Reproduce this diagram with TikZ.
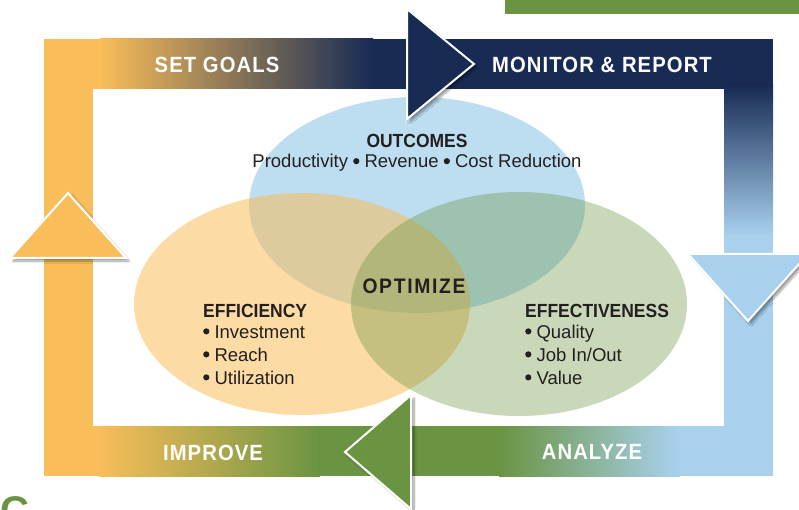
\documentclass[tikz,border=0pt]{standalone}
\usepackage{fontspec}
\setmainfont{Liberation Sans}
\newfontfamily\headfont{Liberation Sans}[FakeStretch=0.92]
\usetikzlibrary{positioning}
\usetikzlibrary{calc}
\usetikzlibrary{shadows.blur}
\definecolor{goalorange}{HTML}{F9BD59}
\definecolor{reportnavy}{HTML}{172B55}
\definecolor{analyzeblue}{HTML}{A9D1EE}
\definecolor{improvegreen}{HTML}{6A9442}
\definecolor{outblue}{HTML}{BDDDF1}
\definecolor{inkgrey}{HTML}{231F20}

\begin{document}
\begin{tikzpicture}[x=1pt,y=-1pt]
    \tikzset{bar_label/.style = {text=white,inner sep=0pt,font=\headfont\fontsize{22}{22}\selectfont\bfseries\addfontfeature{LetterSpace=5}}}
    \tikzset{head_tri/.style = {draw=white,line width=2pt,line join=miter,blur shadow={shadow xshift=3pt,shadow yshift=-3pt,shadow opacity=40,shadow blur steps=10}}}
    \tikzset{set_title/.style = {text=inkgrey,inner sep=0pt,font=\headfont\fontsize{19}{19}\selectfont\bfseries}}
    \tikzset{set_item/.style = {text=inkgrey,inner sep=0pt,font=\fontsize{18.5}{18.5}\selectfont}}
    \newcommand{\dotmark}{\raisebox{0.19em}{\tikz\fill[inkgrey] (0,0) circle (3.1pt);}}

    \useasboundingbox (0,0) rectangle (799,510);
    \fill[improvegreen] (505,0) rectangle (799,14);
    \node[anchor=north west,inner sep=0pt,text=improvegreen,font=\fontsize{40}{40}\selectfont\bfseries] (corner_c) at (0,496) {C};

    % frame of bars
    \fill[goalorange] (44,39) rectangle (101,89);
    \shade[left color=goalorange,right color=reportnavy] (100,39) rectangle (373,89);
    \fill[reportnavy] (372,39) rectangle (773,86);
    \fill[reportnavy] (372,85) rectangle (724,89);
    \shade[top color=reportnavy,bottom color=analyzeblue] (724,85) rectangle (773,236);
    \fill[analyzeblue] (724,235) rectangle (773,476);
    \fill[analyzeblue] (679,426) rectangle (724,476);
    \shade[left color=improvegreen,right color=analyzeblue] (499,426) rectangle (680,476);
    \fill[improvegreen] (319,426) rectangle (500,476);
    \shade[left color=goalorange,right color=improvegreen] (99,426) rectangle (320,476);
    \fill[goalorange] (44,88) rectangle (93,476);
    \fill[goalorange] (92,426) rectangle (100,476);

    \node[bar_label] (set_goals) at (217,65) {SET GOALS};
    \node[bar_label] (monitor) at (602,65) {MONITOR \& REPORT};
    \node[bar_label] (improve) at (213,453) {IMPROVE};
    \node[bar_label] (analyze) at (592,452) {ANALYZE};

    % the three sets
    \fill[outblue] (417,205) ellipse [x radius=168pt,y radius=108pt];
    \fill[goalorange,fill opacity=0.55] (302,304) ellipse [x radius=168pt,y radius=111pt];
    \fill[improvegreen,fill opacity=0.37] (519,304) ellipse [x radius=168pt,y radius=112pt];

    \node[set_title] (outcomes) at (417,141) {OUTCOMES};
    \node[set_item] (outcomes_list) at (417,163) {Productivity \dotmark{} Revenue \dotmark{} Cost Reduction};
    \node[set_title,font=\headfont\fontsize{21}{21}\selectfont\bfseries\addfontfeature{LetterSpace=8}] (optimize) at (414,286) {OPTIMIZE};

    \node[set_title,anchor=base west] (efficiency) at (203,317) {EFFICIENCY};
    \foreach \entry [count=\i] in {Investment,Reach,Utilization}
        \node[set_item,anchor=base west] (eff_\i) at (203,315+23*\i) {\dotmark\ \entry};
    \node[set_title,anchor=base west] (effectiveness) at (525,317) {EFFECTIVENESS};
    \foreach \entry [count=\i] in {Quality,Job In/Out,Value}
        \node[set_item,anchor=base west] (efv_\i) at (525,315+23*\i) {\dotmark\ \entry};

    % arrow heads
    \filldraw[head_tri,fill=reportnavy] (407,9) -- (474,64) -- (407,119) -- cycle;
    \filldraw[head_tri,fill=analyzeblue] (688,254) -- (808,254) -- (748,321) -- cycle;
    \filldraw[head_tri,fill=improvegreen] (411,395) -- (345,452) -- (411,509) -- cycle;
    \filldraw[head_tri,fill=goalorange] (10,258) -- (68,193) -- (126,258) -- cycle;
\end{tikzpicture}
\end{document}
